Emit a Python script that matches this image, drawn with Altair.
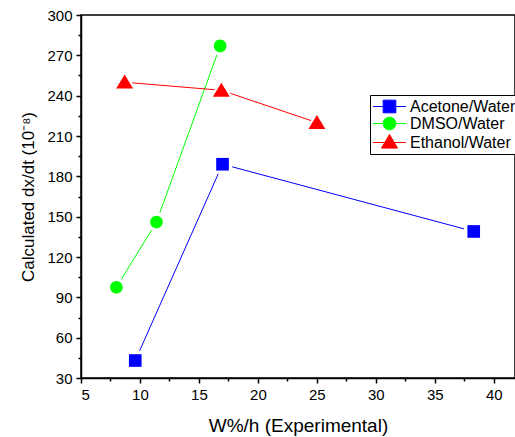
import altair as alt
import pandas as pd

series = ["Acetone/Water", "DMSO/Water", "Ethanol/Water"]
acetone_x = [9.6, 17.0, 38.3]
acetone_y = [43, 189, 139]
dmso_x = [8.0, 11.4, 16.8]
dmso_y = [97.5, 146, 277]
ethanol_x = [8.7, 16.9, 25.0]
ethanol_y = [250, 244, 220]

colors = ["#0000FF", "#00FF00", "#FF0000"]
# marker outlines (unit = sqrt(size)/2 px)
SQ = "M-0.79,-0.79H0.79V0.79H-0.79Z"
CI = "M0.79,0A0.79,0.79,0,1,1,-0.79,0A0.79,0.79,0,1,1,0.79,0Z"
TR = "M0,-0.95L1.06,0.8L-1.06,0.8Z"
marker_shapes = [SQ, CI, TR]
LN = "M-2.06,0H2.06"
legend_shapes = [LN + SQ, LN + CI, LN + "M0,-1.0L1.0,0.7L-1.0,0.7Z"]

x_major = [5, 10, 15, 20, 25, 30, 35, 40]
x_minor = [7.5, 12.5, 17.5, 22.5, 27.5, 32.5, 37.5]
y_major = [30, 60, 90, 120, 150, 180, 210, 240, 270, 300]
y_minor = [45, 75, 105, 135, 165, 195, 225, 255, 285]

rows = []
for name, xs, ys in [(series[0], acetone_x, acetone_y),
                     (series[1], dmso_x, dmso_y),
                     (series[2], ethanol_x, ethanol_y)]:
    for i, (a, b) in enumerate(zip(xs, ys)):
        rows.append({"series": name, "x": a, "y": b, "order": i})
df = pd.DataFrame(rows)

FONT = "Liberation Sans"
xscale = alt.Scale(domain=[5, 41.8], nice=False, zero=False)
yscale = alt.Scale(domain=[30, 300], nice=False, zero=False)
cscale = alt.Scale(domain=series, range=colors)

legend = alt.Legend(title=None, orient="none", legendX=289, legendY=80,
                    fillColor="white", strokeColor="black",
                    padding=3, labelFontSize=16, labelFont=FONT,
                    labelColor="black", symbolSize=256, symbolOpacity=1,
                    symbolStrokeWidth=1, rowPadding=0, symbolOffset=8,
                    labelOffset=12)

base = alt.Chart(df)
X0 = alt.X("x:Q", scale=xscale, axis=None)
Y0 = alt.Y("y:Q", scale=yscale, axis=None)

major_axes = base.mark_point(opacity=0).encode(
    x=alt.X("x:Q", scale=xscale,
            axis=alt.Axis(values=x_major, title="W%/h (Experimental)", orient="bottom",
                          grid=False, tickSize=5, titleFontSize=19, titleFont=FONT,
                          titleFontWeight="normal", titleColor="black", titlePadding=14)),
    y=alt.Y("y:Q", scale=yscale,
            axis=alt.Axis(values=y_major, title="Calculated dx/dt (10⁻⁸)", orient="left",
                          grid=False, tickSize=5, titleFontSize=17, titleFont=FONT,
                          titleFontWeight="normal", titleColor="black", titlePadding=9)),
)

minor_axes = base.mark_point(opacity=0).encode(
    x=alt.X("x:Q", scale=xscale,
            axis=alt.Axis(values=x_minor, labels=False, domain=False, title=None,
                          orient="bottom", grid=False, tickSize=3)),
    y=alt.Y("y:Q", scale=yscale,
            axis=alt.Axis(values=y_minor, labels=False, domain=False, title=None,
                          orient="left", grid=False, tickSize=3)),
)

layers = [major_axes, minor_axes]
for name, c in zip(series, colors):
    sub = base.transform_filter(alt.datum.series == name)
    layers.append(sub.mark_line(color=c, strokeWidth=1).encode(
        x=X0, y=Y0, order="order:Q"))
for name, path in zip(series, marker_shapes):
    sub = base.transform_filter(alt.datum.series == name)
    layers.append(sub.mark_point(filled=True, opacity=1, color="white",
                                 size=600, shape=path).encode(x=X0, y=Y0))
for name, path, c in zip(series, marker_shapes, colors):
    sub = base.transform_filter(alt.datum.series == name)
    layers.append(sub.mark_point(filled=True, opacity=1, size=256, shape=path,
                                 color=c).encode(x=X0, y=Y0))

legend_layer = base.mark_point(filled=True, opacity=0, size=256, strokeWidth=1).encode(
    x=X0, y=Y0,
    fill=alt.Fill("series:N", scale=cscale, legend=legend),
    stroke=alt.Stroke("series:N", scale=cscale, legend=legend),
    shape=alt.Shape("series:N", scale=alt.Scale(domain=series, range=legend_shapes),
                    legend=legend),
)
layers.append(legend_layer)

chart = alt.layer(*layers).resolve_axis(
    x="independent", y="independent"
).properties(
    width=434, height=363,
    padding={"left": 81, "top": 15, "right": 0, "bottom": 59},
    autosize=alt.AutoSizeParams(type="none"),
).configure_view(
    stroke="black", strokeWidth=1.5
).configure_axis(
    domainColor="black", domainWidth=1.5, tickColor="black", tickWidth=1.5,
    labelFontSize=15, labelFont=FONT, labelColor="black", labelPadding=4,
)

chart.save("out.html", embed_options={"renderer": "svg", "actions": False})
